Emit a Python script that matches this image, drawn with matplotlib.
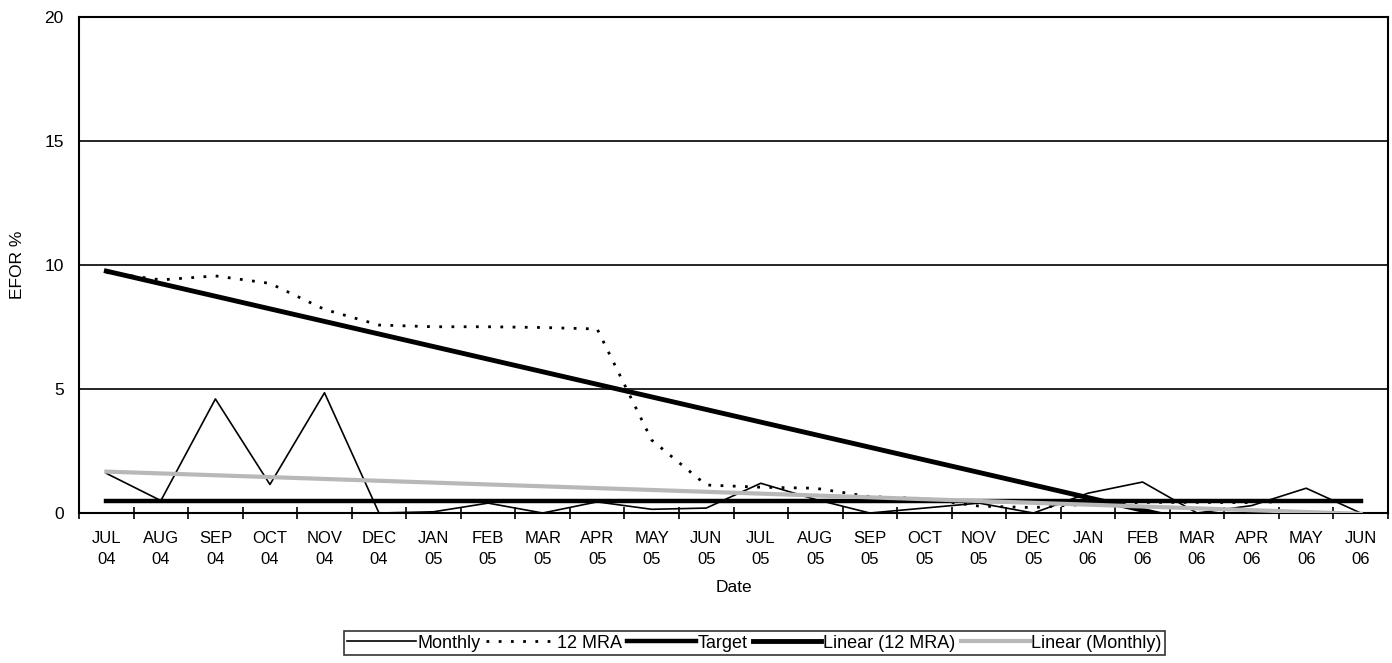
import numpy as np
import matplotlib.pyplot as plt
from matplotlib.lines import Line2D

plt.rcParams['font.family'] = ['Liberation Sans', 'DejaVu Sans']

# ======================
# DATA
# ======================
months = ['JUL\n04', 'AUG\n04', 'SEP\n04', 'OCT\n04', 'NOV\n04', 'DEC\n04',
          'JAN\n05', 'FEB\n05', 'MAR\n05', 'APR\n05', 'MAY\n05', 'JUN\n05',
          'JUL\n05', 'AUG\n05', 'SEP\n05', 'OCT\n05', 'NOV\n05', 'DEC\n05',
          'JAN\n06', 'FEB\n06', 'MAR\n06', 'APR\n06', 'MAY\n06', 'JUN\n06']

monthly = [1.6, 0.5, 4.6, 1.15, 4.85, 0.0, 0.05, 0.4, 0.0, 0.45, 0.15, 0.2,
           1.2, 0.55, 0.0, 0.2, 0.4, 0.0, 0.8, 1.25, 0.0, 0.3, 1.0, 0.0]

mra_12 = [9.7, 9.4, 9.56, 9.26, 8.21, 7.58, 7.51, 7.51, 7.48, 7.42, 2.94, 1.13,
          1.04, 1.0, 0.66, 0.58, 0.28, 0.22, 0.36, 0.43, 0.43, 0.42, 0.49, 0.47]

target = [0.5] * 24

x = np.arange(len(months))

# linear trend lines (least squares, same as the spreadsheet trendline)
trend_mra = np.polyval(np.polyfit(x, mra_12, 1), x)
trend_monthly = np.polyval(np.polyfit(x, monthly, 1), x)

# ======================
# STYLES
# ======================
gray = '#b8b8b8'
styles = [
    dict(color='black', lw=1.2),
    dict(color='black', lw=2.0, dashes=(1.0, 3.4), dash_capstyle='butt'),
    dict(color='black', lw=3.2),
    dict(color='black', lw=3.5),
    dict(color=gray, lw=3.0),
]
labels = ['Monthly', '12 MRA', 'Target', 'Linear (12 MRA)', 'Linear (Monthly)']
series = [monthly, mra_12, target, trend_mra, trend_monthly]

# ======================
# PLOT
# ======================
fig = plt.figure(figsize=(13.92, 6.63), dpi=100)
ax = fig.add_axes([0.0568, 0.2262, 0.9403, 0.7482])

for ys, st, lab in zip(series, styles, labels):
    ax.plot(x, ys, label=lab, zorder=3, **st)

ax.set_xlim(-0.5, len(months) - 0.5)
ax.set_ylim(0, 20)

ax.set_yticks([0, 5, 10, 15, 20])
ax.yaxis.grid(True, color='black', lw=1.2)
ax.set_axisbelow(True)
ax.tick_params(axis='y', length=0, pad=11, labelsize=12.5)

ax.set_xticks(x)
ax.set_xticklabels(months, linespacing=1.5)
ax.set_xticks(np.arange(-0.5, len(months), 1), minor=True)
ax.tick_params(axis='x', which='major', length=0, pad=13, labelsize=12)
ax.tick_params(axis='x', which='minor', direction='inout', length=8, width=1.2)

for s in ax.spines.values():
    s.set_color('black')
    s.set_linewidth(1.5)

ax.set_xlabel('Date', fontsize=12.5, labelpad=9)
ax.set_ylabel('EFOR %', fontsize=12.5, labelpad=14)

handles = [Line2D([], [], **st) for st in styles]
leg = fig.legend(handles, labels, loc='center', bbox_to_anchor=(0.542, 0.03),
                 ncol=5, fontsize=13, frameon=True, fancybox=False,
                 edgecolor='black', handlelength=3.8, handletextpad=0.1,
                 columnspacing=0.3, borderpad=0.2, borderaxespad=0)
leg.get_frame().set_linewidth(1.2)

fig.savefig('out.png', dpi=100)
